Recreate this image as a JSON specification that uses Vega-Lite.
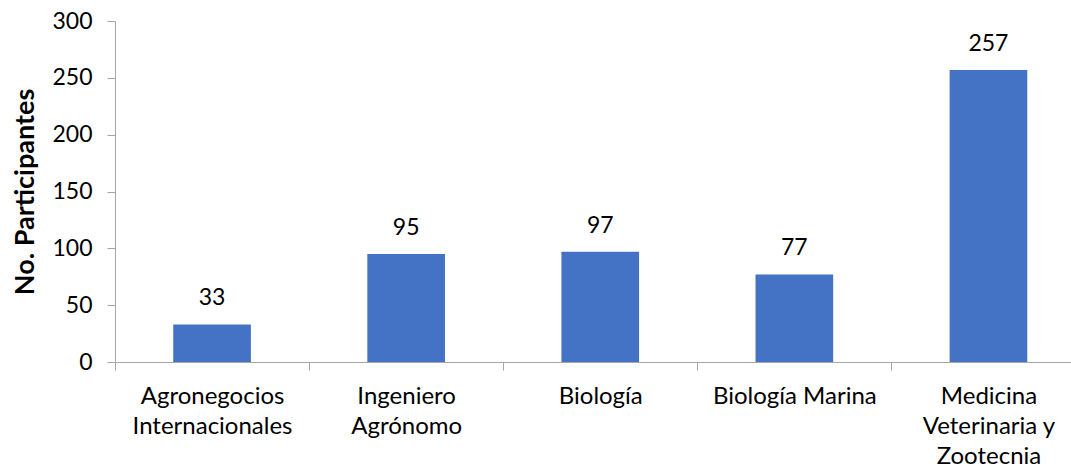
{
  "$schema": "https://vega.github.io/schema/vega-lite/v6.json",
  "width": 956,
  "height": 341,
  "autosize": {"type": "none"},
  "padding": {"left": 115, "top": 21, "right": 0, "bottom": 105},
  "background": "white",
  "config": {"view": {"stroke": null}, "font": "Lato"},
  "data": {"values": [
    {"carrera": "Agronegocios Internacionales", "participantes": 33},
    {"carrera": "Ingeniero Agrónomo", "participantes": 95},
    {"carrera": "Biología", "participantes": 97},
    {"carrera": "Biología Marina", "participantes": 77},
    {"carrera": "Medicina Veterinaria y Zootecnia", "participantes": 257}
  ]},
  "encoding": {
    "x": {
      "field": "carrera", "type": "nominal", "sort": null,
      "scale": {"range": [0, 970.5], "paddingInner": 0, "paddingOuter": 0},
      "axis": {
        "title": null, "labelAngle": 0, "tickBand": "extent",
        "domainColor": "#a6a6a6", "tickColor": "#a6a6a6", "tickSize": 8,
        "labelFont": "Lato", "labelFontSize": 24, "labelColor": "#000000",
        "labelLineHeight": 30, "labelPadding": 14, "labelBaseline": "top",
        "labelExpr": "datum.value == 'Agronegocios Internacionales' ? ['Agronegocios', 'Internacionales'] : datum.value == 'Ingeniero Agrónomo' ? ['Ingeniero', 'Agrónomo'] : datum.value == 'Medicina Veterinaria y Zootecnia' ? ['Medicina', 'Veterinaria y', 'Zootecnia'] : datum.value",
        "labelLimit": 300
      }
    },
    "y": {
      "field": "participantes", "type": "quantitative",
      "scale": {"domain": [0, 300], "nice": false},
      "axis": {
        "title": "No. Participantes", "values": [0, 50, 100, 150, 200, 250, 300],
        "grid": false, "domainColor": "#a6a6a6", "tickColor": "#a6a6a6", "tickSize": 8,
        "labelFont": "Lato", "labelFontSize": 23, "labelColor": "#000000", "labelPadding": 15,
        "titleFont": "Lato", "titleFontSize": 27, "titleFontWeight": "bold", "titleColor": "#000000",
        "titlePadding": 12
      }
    }
  },
  "layer": [
    {"mark": {"type": "bar", "color": "#4472c4", "width": {"band": 0.4}}},
    {"mark": {"type": "text", "baseline": "alphabetic", "dy": -19, "fontSize": 23, "font": "Lato", "color": "#000000"},
     "encoding": {"text": {"field": "participantes", "type": "quantitative"}}}
  ]
}
